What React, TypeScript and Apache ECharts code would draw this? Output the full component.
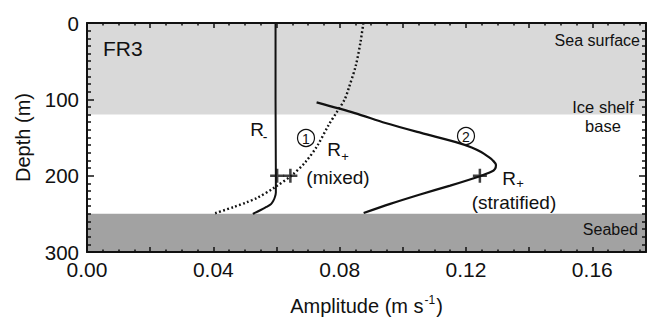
import React, { useEffect, useRef } from "react";
import * as echarts from "echarts";

// Depth (m) and amplitude (m s^-1)
const rMinusDepth = [0, 100, 200, 222, 228, 233, 237, 241, 245, 250];
const rMinusAmp = [0.0597, 0.0597, 0.0598, 0.0598, 0.0595, 0.059, 0.0583, 0.0568, 0.055, 0.0525];

const rPlusMixedDepth = [0, 25, 56, 85, 100, 116, 133, 161, 182, 199, 216, 229, 235, 241, 250];
const rPlusMixedAmp = [0.0875, 0.0866, 0.0851, 0.0829, 0.0816, 0.0792, 0.0766, 0.0729, 0.0692, 0.065, 0.0592, 0.0539, 0.0505, 0.0465, 0.04];

const rPlusStratDepth = [104, 118, 131, 144, 156, 163, 169, 175, 180, 186, 191, 195, 201, 213, 225, 237, 249];
const rPlusStratAmp = [0.0727, 0.0848, 0.0945, 0.1058, 0.1168, 0.1218, 0.1248, 0.127, 0.1285, 0.1295, 0.1292, 0.128, 0.1242, 0.115, 0.1052, 0.096, 0.0876];

const markerAmp = [0.0602, 0.0644, 0.1244];
const markerDepth = [200, 200, 200];

const iceShelfBase = 120;
const seabed = 250;
const depthMax = 300;
const ampMax = 0.177;

const FONT = "'Liberation Sans', Arial, Helvetica, sans-serif";
const INK = "#111";

const zip = (a: number[], d: number[]) => a.map((v, i) => [v, d[i]]);

const plusPath =
  "path://M-0.18,-1L0.18,-1L0.18,-0.18L1,-0.18L1,0.18L0.18,0.18L0.18,1L-0.18,1L-0.18,0.18L-1,0.18L-1,-0.18L-0.18,-0.18Z";

function txt(text: string, x: number, y: number, size: number, align = "center") {
  return {
    type: "text",
    x,
    y,
    z: 20,
    style: {
      text,
      fill: INK,
      fontSize: size,
      fontFamily: FONT,
      align,
      verticalAlign: "middle",
    },
  };
}

function circled(n: string, x: number, y: number) {
  return [
    {
      type: "circle",
      z: 20,
      shape: { cx: x, cy: y, r: 8.5 },
      style: { fill: "#fff", stroke: INK, lineWidth: 1.2 },
    },
    txt(n, x, y + 0.5, 14),
  ];
}

export default function App() {
  const ref = useRef<HTMLDivElement>(null);
  useEffect(() => {
    if (!ref.current) return;
    const chart = echarts.init(ref.current, null, { renderer: "svg" });
    const xCommon = {
      type: "value",
      min: 0,
      max: ampMax,
      interval: 0.02,
      z: 10,
      axisLine: { show: true, onZero: false, lineStyle: { color: INK, width: 2 } },
      axisTick: { show: true, inside: true, length: 5, lineStyle: { color: INK, width: 1.5 } },
      minorTick: { show: true, splitNumber: 4, length: 2.5, lineStyle: { color: INK, width: 1.5 } },
      splitLine: { show: false },
      minorSplitLine: { show: false },
    };
    const yCommon = {
      type: "value",
      min: 0,
      max: depthMax,
      interval: 100,
      inverse: true,
      z: 10,
      axisLine: { show: true, onZero: false, lineStyle: { color: INK, width: 2 } },
      axisTick: { show: true, inside: true, length: 7, lineStyle: { color: INK, width: 1.5 } },
      minorTick: { show: true, splitNumber: 10, length: 4, lineStyle: { color: INK, width: 1.5 } },
      splitLine: { show: false },
      minorSplitLine: { show: false },
    };
    chart.setOption({
      animation: false,
      backgroundColor: "#fff",
      grid: { left: 87, right: 4, top: 23, bottom: 64, containLabel: false },
      xAxis: [
        {
          ...xCommon,
          position: "bottom",
          name: "{a|Amplitude (m s}{s|-1}{a|)}",
          nameLocation: "middle",
          nameGap: 42,
          nameTextStyle: {
            rich: {
              a: { fontSize: 20, fontFamily: FONT, color: INK, lineHeight: 24 },
              s: { fontSize: 12, fontFamily: FONT, color: INK, verticalAlign: "top", lineHeight: 24, padding: [0, 1, 0, 1] },
            },
          },
          axisLabel: {
            show: true,
            margin: 9,
            fontSize: 21,
            lineHeight: 16,
            fontFamily: FONT,
            color: INK,
            formatter: (v: number) =>
              Math.round(v * 100) % 4 === 0 ? v.toFixed(2) : "",
          },
        },
        { ...xCommon, position: "top", axisLabel: { show: false } },
      ],
      yAxis: [
        {
          ...yCommon,
          position: "left",
          name: "Depth (m)",
          nameLocation: "middle",
          nameGap: 54,
          nameTextStyle: { fontSize: 20, fontFamily: FONT, color: INK },
          axisLabel: { show: true, margin: 8, fontSize: 20.5, lineHeight: 15, fontFamily: FONT, color: INK },
        },
        { ...yCommon, position: "right", axisLabel: { show: false } },
      ],
      series: [
        {
          type: "line",
          name: "R-",
          data: zip(rMinusAmp, rMinusDepth),
          showSymbol: false,
          smooth: 0.3,
          z: 3,
          lineStyle: { color: INK, width: 2 },
          markArea: {
            silent: true,
            z: 1,
            data: [
              [{ yAxis: 0, itemStyle: { color: "#d9d9d9" } }, { yAxis: iceShelfBase }],
              [{ yAxis: seabed, itemStyle: { color: "#a2a2a2" } }, { yAxis: depthMax }],
            ],
          },
        },
        {
          type: "line",
          name: "R+ mixed",
          data: zip(rPlusMixedAmp, rPlusMixedDepth),
          showSymbol: false,
          smooth: 0.3,
          z: 3,
          lineStyle: { color: INK, width: 2.4, type: [1.8, 2.4] },
        },
        {
          type: "line",
          name: "R+ stratified",
          data: zip(rPlusStratAmp, rPlusStratDepth),
          showSymbol: false,
          smooth: 0.3,
          z: 3,
          lineStyle: { color: INK, width: 2.2 },
        },
        {
          type: "scatter",
          name: "markers",
          data: zip(markerAmp, markerDepth),
          symbol: plusPath,
          symbolSize: 14,
          z: 4,
          itemStyle: { color: INK },
        },
      ],
      graphic: [
        txt("FR3", 103, 48, 21, "left"),
        txt("Sea surface", 640, 40, 16, "right"),
        txt("Ice shelf", 603, 107, 16.5),
        txt("base", 603, 126, 16.5),
        txt("Seabed", 638, 229, 16, "right"),
        txt("R", 257, 129, 19),
        txt("-", 265, 137, 14),
        ...circled("1", 306, 138),
        txt("R", 334, 149, 19),
        txt("+", 345, 156, 13),
        txt("(mixed)", 338, 177, 19),
        ...circled("2", 466, 136),
        txt("R", 509, 178, 19),
        txt("+", 520, 183, 13),
        txt("(stratified)", 514, 202, 19),
      ],
    });
    return () => chart.dispose();
  }, []);
  return <div ref={ref} style={{ width: 650, height: 321, position: "absolute", left: 0, top: 0 }} />;
}
